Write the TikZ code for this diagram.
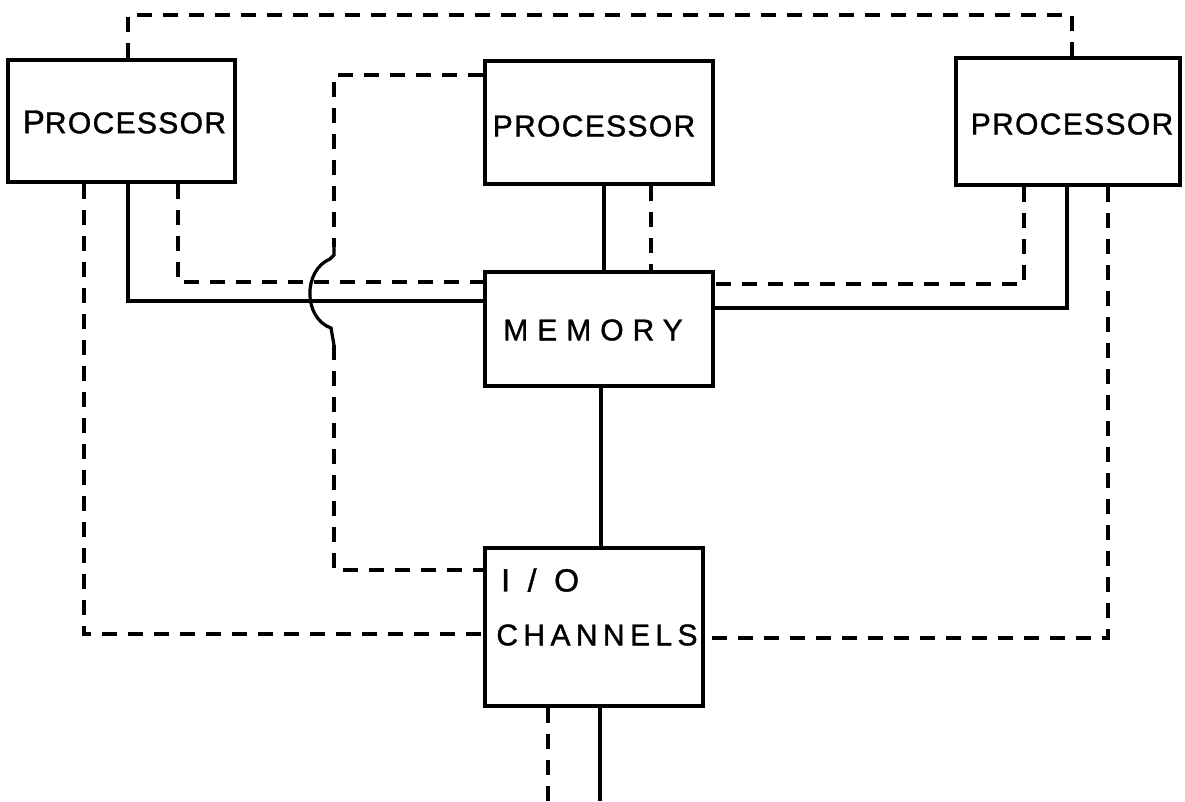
\documentclass[tikz,border=0pt]{standalone}
\usepackage{fontspec}
\setmainfont{Liberation Sans}
\usetikzlibrary{calc}
\begin{document}
\begin{tikzpicture}[x=1pt,y=-1pt,
  unitbox/.style={draw,line width=3.8pt,rectangle,inner sep=0pt},
  solidline/.style={line width=3.2pt},
  dashline/.style={line width=3.4pt,dash pattern=on 15pt off 11pt},
  lbl/.style={inner sep=0pt,font=\fontsize{30}{32}\selectfont\addfontfeatures{LetterSpace=4.5,FakeBold=1.2}},
]
\useasboundingbox (0,0) rectangle (1185,801);
\fill[white] (0,0) rectangle (1185,801);
% boxes
\node[unitbox,minimum width=227pt,minimum height=122pt] (p1) at (121.5,121) {};
\node[unitbox,minimum width=228pt,minimum height=123pt] (p2) at (599,122.5) {};
\node[unitbox,minimum width=224pt,minimum height=127pt] (p3) at (1068,121.5) {};
\node[unitbox,minimum width=228pt,minimum height=114pt] (mem) at (599,329) {};
\node[unitbox,minimum width=218pt,minimum height=158pt] (io) at (594,627) {};
% labels
\node[lbl] (t1) at (124.5,122) {{\fontsize{33}{34}\selectfont P}ROCESSOR};
\node[lbl] (t2) at (594,126) {PROCESSOR};
\node[lbl] (t3) at (1072,124) {PROCESSOR};
\node[lbl,font=\fontsize{30}{32}\selectfont\addfontfeatures{LetterSpace=30,FakeBold=1.2}] (t4) at (593,330) {MEMORY};
\node[lbl,anchor=west,font=\fontsize{32}{34}\selectfont\addfontfeatures{LetterSpace=55,FakeBold=1.2}] (t5) at (501,580) {I/O};
\node[lbl,font=\fontsize{30}{32}\selectfont\addfontfeatures{LetterSpace=18,FakeBold=1.2}] (t6) at (597,635) {CHANNELS};
% free ends / bends
\coordinate (hopT) at (334,247);
\coordinate (hopB) at (334,345);
\coordinate (endD) at (548,801);
\coordinate (endS) at (600,801);
% top dashed loop P1 -- P3
\draw[dashline] (128,0 |- p1.north) -- (128,15) -- (1072,15) -- (1072,0 |- p3.north);
% P1 connections
\draw[dashline] (84,0 |- p1.south) -- (84,634) -- (io.west |- 0,634);
\draw[solidline] (128,0 |- p1.south) -- (128,301) -- (mem.west |- 0,301);
\draw[dashline] (178,0 |- p1.south) -- (178,282) -- (mem.west |- 0,282);
% P2 connections
\draw[solidline] (604,0 |- p2.south) -- (604,0 |- mem.north);
\draw[dashline] (651,0 |- p2.south) -- (651,0 |- mem.north);
\draw[dashline] (p2.west |- 0,75) -- (334,75) -- (hopT);
\draw[solidline] (hopT) -- (334,255) -- (330,259) .. controls (303,270) and (303,318) .. (331,328) -- (hopB);
\draw[dashline] (hopB) -- (334,570) -- (io.west |- 0,570);
% P3 connections
\draw[dashline] (1024,0 |- p3.south) -- (1024,284) -- (mem.east |- 0,284);
\draw[solidline] (1067,0 |- p3.south) -- (1067,308) -- (mem.east |- 0,308);
\draw[dashline] (1108,0 |- p3.south) -- (1108,638) -- (io.east |- 0,638);
% memory -- io
\draw[solidline] (601,0 |- mem.south) -- (601,0 |- io.north);
% io bottom
\draw[dashline] (548,0 |- io.south) -- (endD);
\draw[solidline] (600,0 |- io.south) -- (endS);
\end{tikzpicture}
\end{document}
